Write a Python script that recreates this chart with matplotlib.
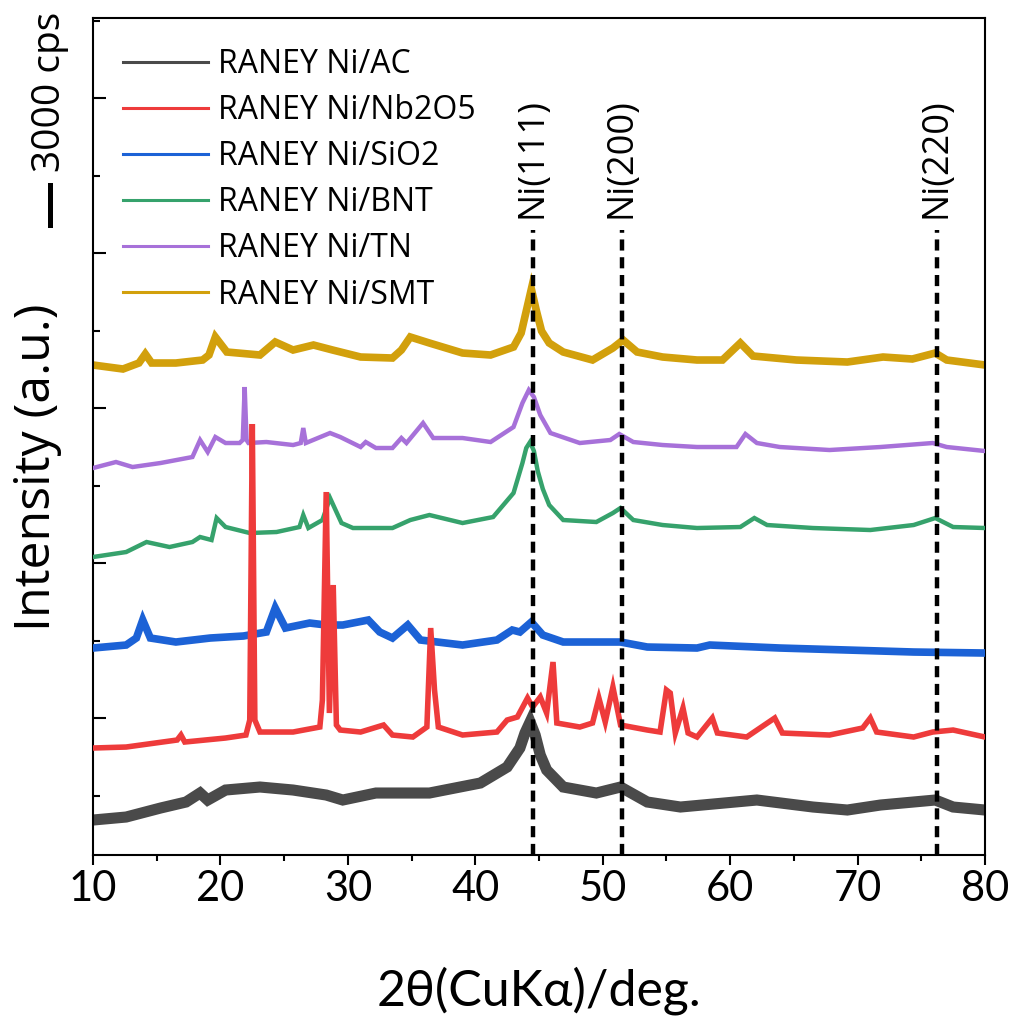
# XRD patterns of RANEY Ni on different supports

import numpy as np
import matplotlib.pyplot as plt
from matplotlib.ticker import MultipleLocator
from matplotlib.lines import Line2D

# intensities in a.u. (curves already offset as in the figure)
tt_ac = [10, 12.6, 15.3, 17.3, 18.4, 19.0, 20.4, 23.1, 25.7, 28.3, 29.6, 32.2, 36.4, 40.4,
         42.5, 43.5, 43.9, 44.3, 44.7, 45.1, 45.6, 46.9, 49.5, 51.4, 53.5, 56.1, 62.1, 66.5,
         69.2, 71.8, 76.1, 77.5, 80]
i_ac = [53, 56, 65, 71, 80, 73, 83, 86, 83, 78, 73, 80, 80, 90,
        106, 125, 140, 151, 138, 118, 103, 86, 80, 86, 71, 66, 73, 66,
        63, 68, 73, 66, 63]

tt_nb = [10, 12.6, 16.6, 16.9, 17.2, 20.4, 22.0, 22.3, 22.5, 22.7, 23.1, 25.7, 27.8, 28.0,
         28.3, 28.55, 28.85, 29.1, 29.4, 31.0, 32.8, 33.5, 35.1, 36.2, 36.5, 36.8, 37.1, 39.0,
         41.7, 42.5, 43.3, 44.1, 44.5, 45.1, 45.6, 46.1, 46.4, 48.2, 49.2, 49.7, 50.2, 50.8,
         51.4, 53.5, 54.5, 55.0, 55.3, 55.7, 56.3, 56.7, 57.4, 58.6, 59.0, 61.3, 63.5, 64.1,
         67.8, 70.4, 71.0, 71.5, 74.4, 75.9, 77.5, 80]
i_nb = [125, 126, 133, 138, 131, 135, 138, 153, 449, 153, 141, 141, 146, 173,
        381, 160, 288, 148, 143, 141, 148, 138, 136, 146, 245, 183, 146, 138,
        141, 153, 156, 175, 166, 176, 160, 211, 150, 146, 150, 175, 151, 186,
        148, 143, 141, 183, 180, 140, 165, 140, 136, 155, 140, 136, 155, 140,
        138, 145, 155, 141, 136, 141, 143, 136]

tt_si = [10, 12.6, 13.4, 13.9, 14.5, 16.5, 19.2, 21.8, 23.6, 24.3, 25.1, 27.0, 28.3, 29.6,
         31.6, 32.5, 33.5, 34.7, 35.7, 39.0, 41.7, 42.9, 43.5, 44.4, 45.3, 46.9, 51.4, 53.5,
         57.4, 58.4, 63.9, 69.2, 74.4, 80]
i_si = [225, 228, 235, 253, 235, 231, 235, 237, 241, 265, 245, 250, 248, 248,
        253, 241, 235, 248, 233, 228, 233, 243, 241, 251, 238, 231, 231, 226,
        225, 228, 225, 223, 221, 220]

tt_bnt = [10, 12.6, 14.2, 16.0, 17.8, 18.4, 19.3, 19.7, 20.4, 22.3, 24.4, 26.2, 26.5, 26.9,
          28.0, 28.6, 29.5, 30.4, 33.5, 34.9, 36.4, 39.0, 41.4, 43.0, 43.7, 44.0, 44.3, 44.6,
          44.9, 45.3, 45.8, 46.9, 49.5, 50.8, 51.4, 52.4, 54.7, 57.4, 60.8, 61.9, 62.9, 66.5,
          71.0, 74.4, 76.1, 77.5, 80]
i_bnt = [316, 321, 331, 326, 331, 336, 333, 355, 346, 340, 341, 346, 358, 345,
         353, 375, 350, 345, 345, 353, 358, 350, 356, 380, 410, 425, 431, 422,
         402, 384, 368, 353, 351, 360, 365, 353, 348, 345, 346, 355, 348, 345,
         343, 348, 355, 346, 345]

tt_tn = [10, 11.8, 13.1, 15.3, 17.8, 18.4, 19.0, 19.6, 20.4, 21.5, 21.75, 21.9, 22.05, 22.2,
         23.6, 25.7, 26.3, 26.5, 26.7, 28.6, 29.4, 31.0, 31.4, 32.2, 33.5, 34.2, 34.6, 35.9,
         36.7, 39.0, 41.2, 43.0, 43.7, 44.2, 44.6, 45.1, 45.9, 48.2, 50.6, 51.3, 52.4, 54.7,
         57.4, 60.5, 61.2, 62.1, 63.9, 67.8, 71.8, 75.9, 77.0, 80]
i_tn = [405, 411, 406, 410, 416, 433, 421, 436, 430, 430, 433, 486, 433, 430,
        431, 428, 430, 445, 430, 440, 436, 426, 431, 425, 425, 435, 430, 450,
        435, 435, 431, 446, 470, 483, 476, 458, 440, 430, 433, 439, 431, 428,
        426, 426, 439, 430, 426, 423, 426, 430, 426, 422]

tt_smt = [10, 12.35, 13.6, 14.1, 14.6, 16.5, 18.6, 19.1, 19.6, 20.5, 23.1, 24.3, 25.7, 27.3,
          28.8, 31.0, 33.5, 34.2, 34.9, 36.4, 39.0, 41.2, 43.0, 43.6, 44.0, 44.4, 44.8, 45.2,
          45.8, 46.9, 49.2, 50.8, 51.6, 52.7, 54.7, 57.4, 59.4, 60.8, 61.8, 65.2, 69.2, 72.0,
          74.3, 76.1, 77.0, 80]
i_smt = [508, 504, 510, 519, 510, 510, 513, 518, 536, 521, 518, 531, 523, 528,
         523, 516, 515, 523, 536, 530, 520, 518, 526, 540, 562, 584, 562, 542,
         530, 521, 513, 525, 533, 521, 516, 513, 513, 530, 517, 513, 511, 516,
         514, 520, 513, 508]

names = ['RANEY Ni/AC', 'RANEY Ni/Nb2O5', 'RANEY Ni/SiO2', 'RANEY Ni/BNT', 'RANEY Ni/TN', 'RANEY Ni/SMT']
colors = ['#4a4a4a', '#ee3b3b', '#1c62d6', '#36a26c', '#a771d9', '#d2a00c']

ni_pos = [44.5, 51.5, 76.2]
ni_lab = ['Ni(111)', 'Ni(200)', 'Ni(220)']

#### plotting #####
plt.close('all')
fig = plt.figure(figsize=(10.19, 10.23), dpi=100)
ax = fig.add_axes([0.0913, 0.1642, 0.8753, 0.8182])

data = [(tt_ac, i_ac, 8.0), (tt_nb, i_nb, 4.0), (tt_si, i_si, 5.5),
        (tt_bnt, i_bnt, 3.2), (tt_tn, i_tn, 3.2), (tt_smt, i_smt, 5.5)]
zo = [2, 6, 3, 4, 5, 2]
for (tt, ii, lw), c, z in zip(data, colors, zo):
    ax.plot(tt, ii, color=c, lw=lw, solid_joinstyle='miter', zorder=z)

ax.vlines(ni_pos, 18, 643, colors='k', linestyles=(0, (2.5, 1.5)), lw=3.2, zorder=8)
for x, s in zip(ni_pos, ni_lab):
    ax.text(x, 655, s, rotation=90, ha='center', va='bottom', fontsize=26, family=['Open Sans', 'DejaVu Sans'])

ax.set_xlim(10, 80)
ax.set_ylim(18, 855)
ax.xaxis.set_major_locator(MultipleLocator(10))
ax.xaxis.set_minor_locator(MultipleLocator(5))
ax.yaxis.set_major_locator(MultipleLocator(155))
ax.yaxis.set_minor_locator(MultipleLocator(77.5))
ax.tick_params(axis='x', which='major', direction='out', length=7, width=1.5, labelsize=30, pad=4)
ax.tick_params(axis='x', which='minor', direction='out', length=4, width=1.5)
ax.tick_params(axis='y', which='major', direction='in', length=9, width=1.5, labelleft=False)
ax.tick_params(axis='y', which='minor', direction='in', length=5, width=1.5)
for lab in ax.get_xticklabels():
    lab.set_family(['Lato', 'DejaVu Sans'])
for sp in ax.spines.values():
    sp.set_linewidth(1.5)

handles = [Line2D([], [], color=c, lw=2.2) for c in colors]
ax.legend(handles, names, loc='upper left', bbox_to_anchor=(0.0, 1.0), frameon=False,
          handlelength=2.66, handletextpad=0.31, labelspacing=0.41, borderaxespad=0.54,
          prop={'family': 'Open Sans', 'size': 23})

ax.set_xlabel('2\u03b8(CuK\u03b1)/deg.', fontsize=36, family=['Lato', 'DejaVu Sans'], labelpad=42)
fig.text(0.037, 0.5435, 'Intensity (a.u.)', rotation=90, ha='center', va='center',
         fontsize=36, family=['Open Sans', 'DejaVu Sans'])
fig.text(0.049, 0.910, '3000 cps', rotation=90, ha='center', va='center',
         fontsize=28, family=['Open Sans', 'DejaVu Sans'])
fig.add_artist(Line2D([0.049, 0.049], [0.780, 0.819], color='k', lw=3.6))

plt.savefig('out.png', dpi=100)
